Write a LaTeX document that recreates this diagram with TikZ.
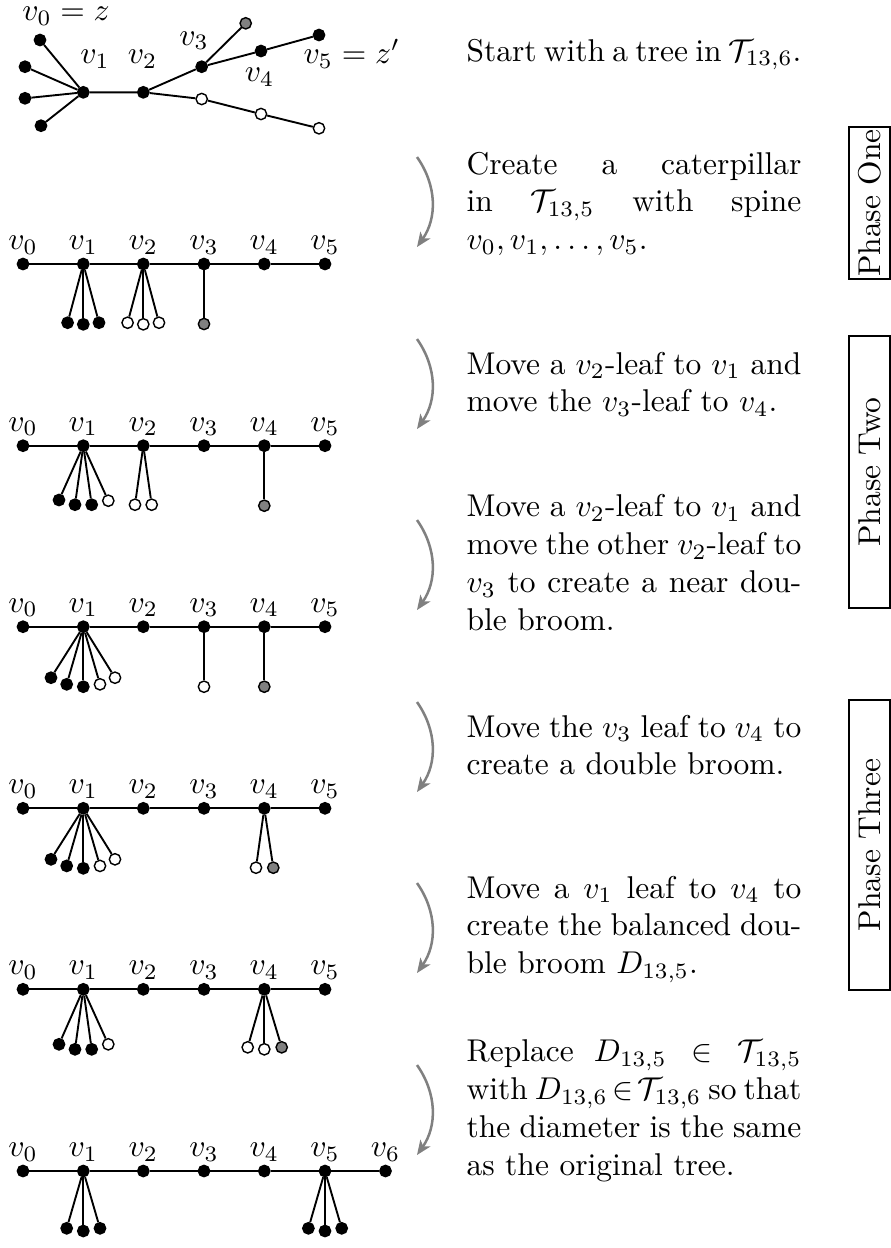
\documentclass[tikz,border=0pt]{standalone}
\usetikzlibrary{arrows.meta}
\begin{document}
\begin{tikzpicture}[x=0.3175pt,y=-0.3175pt,
  dot/.style={circle,draw=black,fill=black,inner sep=0pt,minimum size=3.6pt,line width=0.45pt},
  edge/.style={line width=0.6pt},
  vlab/.style={anchor=base,inner sep=0pt},
  txt/.style={anchor=base west,inner sep=0pt,text width=106.3pt,align=justify},
  garrow/.style={draw=black!50,line width=0.8pt,-{Stealth[length=4.6pt,width=3.8pt,inset=1.2pt]}},
  phasebox/.style={draw=black,line width=0.4pt,rotate=90,inner sep=0pt,minimum height=13pt}]
\useasboundingbox (0,0) rectangle (891,1248);
\newcommand\fan[2]{\foreach \dx/\dy/\cl [count=\k] in {#2}{%
  \path (#1.center) ++(\dx,\dy) node[dot,fill=\cl] (#1-\k) {};
  \draw[edge] (#1) -- (#1-\k);}}
% ---------- top tree ----------
\node[dot] (t1) at (83.3,92.3) {};
\node[dot] (t2) at (143.3,92.3) {};
\node[dot] (t3) at (201.7,66.7) {};
\node[dot] (t4) at (261,51) {};
\node[dot] (t5) at (319,35) {};
\node[dot,fill=black!50] (tg) at (245.7,23.3) {};
\node[dot,fill=white] (tw1) at (201.7,99) {};
\node[dot,fill=white] (tw2) at (261,114) {};
\node[dot,fill=white] (tw3) at (319,128.3) {};
\node[dot] (ta) at (40,40) {};
\node[dot] (tb) at (25,66.7) {};
\node[dot] (tc) at (25,98.3) {};
\node[dot] (td) at (41,125.7) {};
\draw[edge] (ta) -- (t1); \draw[edge] (tb) -- (t1); \draw[edge] (tc) -- (t1); \draw[edge] (td) -- (t1);
\draw[edge] (t1) -- (t2) -- (t3) -- (t4) -- (t5);
\draw[edge] (t3) -- (tg);
\draw[edge] (t2) -- (tw1) -- (tw2) -- (tw3);
\node[vlab] (tl0) at (66,20.5) {$v_0=z$};
\node[vlab] (tl1) at (95,63.3) {$v_1$};
\node[vlab] (tl2) at (142.5,63.3) {$v_2$};
\node[vlab] (tl3) at (194,45) {$v_3$};
\node[vlab] (tl4) at (259.5,81.7) {$v_4$};
\node[vlab,anchor=base west] (tl5) at (303,63.3) {$v_5=z'$};
% ---------- caterpillar rows ----------
\foreach \r/\yy in {1/264,2/445.7,3/626.7,4/808.3,5/989.3,6/1171}{
  \foreach \i/\xx in {0/23,1/83.3,2/143.3,3/204,4/264.3,5/325}{
    \node[dot] (r\r v\i) at (\xx,\yy) {};
    \node[vlab] (r\r l\i) at (\xx,{\yy-14.7}) {$v_{\i}$};
  }
  \draw[edge] (r\r v0) -- (r\r v1) -- (r\r v2) -- (r\r v3) -- (r\r v4) -- (r\r v5);
}
\node[dot] (r6v6) at (385.5,1171) {};
\node[vlab] (r6l6) at (385.5,1156.3) {$v_6$};
\draw[edge] (r6v5) -- (r6v6);
% row 1
\fan{r1v1}{-15.7/58.7/black,0/60.3/black,15.7/58.7/black}
\fan{r1v2}{-15.7/58.7/white,0/60.3/white,15.7/58.7/white}
\fan{r1v3}{0/60/black!50}
% row 2
\fan{r2v1}{-24.3/54.3/black,-8.3/59/black,8.4/59/black,25/55/white}
\fan{r2v2}{-8.3/59/white,8.4/59/white}
\fan{r2v4}{0/60/black!50}
% row 3
\fan{r3v1}{-32.3/51/black,-16.6/57.6/black,0/60/black,16.7/57.6/white,31.7/51/white}
\fan{r3v3}{0/60/white}
\fan{r3v4}{0/60/black!50}
% row 4
\fan{r4v1}{-32.3/51/black,-16.6/57.6/black,0/60/black,16.7/57.6/white,31.7/51/white}
\fan{r4v4}{-8.3/59.4/white,9/59.4/black!50}
% row 5
\fan{r5v1}{-24.3/55/black,-8.3/60/black,8.4/60/black,25/55/white}
\fan{r5v4}{-16.6/58/white,0/60/white,17.4/58/black!50}
% row 6
\fan{r6v1}{-16.6/57.3/black,0/60/black,16.7/57.3/black}
\fan{r6v5}{-16.6/57.3/black,0/60/black,16.7/57.3/black}
% ---------- arrows ----------
\foreach \a/\ys in {1/157,2/339,3/520,4/702,5/883,6/1065}{
  \coordinate (a\a s) at (417,\ys);
  \coordinate (a\a e) at (417,{\ys+90});
  \draw[garrow] (a\a s) to[bend left=35] (a\a e);
}
% ---------- texts ----------
\node[txt] (b0) at (466,61) {Start with a tree in $\mathcal{T}_{13,6}$.};
\node[txt] (b1) at (466,174) {Create a caterpillar\linebreak in $\mathcal{T}_{13,5}$ with spine\linebreak $v_0,v_1,\ldots,v_5$.};
\node[txt] (b2) at (466,374) {Move a $v_2$-leaf to $v_1$ and\linebreak move the $v_3$-leaf to $v_4$.};
\node[txt] (b3) at (466,516.7) {Move a $v_2$-leaf to $v_1$ and\linebreak move the other $v_2$-leaf to\linebreak $v_3$ to create a near dou-\linebreak ble broom.};
\node[txt] (b4) at (466,737) {Move the $v_3$ leaf to $v_4$ to\linebreak create a double broom.};
\node[txt] (b5) at (466,898) {Move a $v_1$ leaf to $v_4$ to\linebreak create the balanced dou-\linebreak ble broom $D_{13,5}$.};
\node[txt] (b6) at (466,1061.7) {Replace $D_{13,5}\in\mathcal{T}_{13,5}$\linebreak
  \makebox[\linewidth][s]{with $D_{13,6}\mskip-2.5mu\in\mskip-2.5mu\mathcal{T}_{13,6}$ so that}\linebreak the diameter is the same\linebreak as the original tree.};
% ---------- phase boxes ----------
\node[phasebox,minimum width=48.3pt] (p1) at (869.5,203) {Phase One};
\node[phasebox,minimum width=86.4pt] (p2) at (869.5,472) {Phase Two};
\node[phasebox,minimum width=92.1pt] (p3) at (869.5,845) {Phase Three};
\end{tikzpicture}
\end{document}
